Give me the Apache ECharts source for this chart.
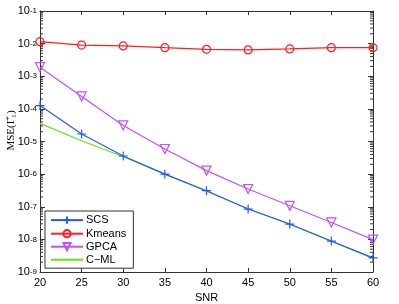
<!DOCTYPE html>
<html><head><meta charset="utf-8">
<script src="https://cdn.jsdelivr.net/npm/echarts@6/dist/echarts.min.js"></script>
<style>html,body{margin:0;padding:0;background:#fff}#c{width:399px;height:304px}</style>
</head><body><div id="c"></div>
<script>
var snr = [20, 25, 30, 35, 40, 45, 50, 55, 60];
var scs = [1.26e-4, 1.7e-5, 3.6e-6, 1.0e-6, 3.1e-7, 8.5e-8, 2.95e-8, 8.9e-9, 2.7e-9];
var kmeans = [1.15e-2, 9.0e-3, 8.5e-3, 7.5e-3, 6.7e-3, 6.4e-3, 6.9e-3, 7.5e-3, 7.5e-3];
var gpca = [1.9e-3, 2.4e-4, 3.1e-5, 5.9e-6, 1.28e-6, 3.5e-7, 1.07e-7, 3.3e-8, 9.8e-9];
var cml = [3.6e-5, 1.05e-5, 3.4e-6, 1.0e-6, 3.0e-7, 8.7e-8, 2.9e-8, 8.6e-9, 2.6e-9];
var yExponents = [-9, -8, -7, -6, -5, -4, -3, -2, -1];
var minorMult = [2, 3, 4, 5, 6, 7, 8, 9];

function pairs(ys) { return snr.map(function (x, i) { return [x, ys[i]]; }); }
var minorVals = [];
for (var d = 0; d < yExponents.length - 1; d++) {
  minorMult.forEach(function (m) { minorVals.push([m * Math.pow(10, yExponents[d])]); });
}
var axisColor = '#333';
var chart = echarts.init(document.getElementById('c'));
chart.setOption({
  animation: false,
  grid: { left: 40, right: 26, top: 11, bottom: 32, containLabel: false, outerBoundsMode: 'none' },
  xAxis: [{
    type: 'value', min: 20, max: 60, interval: 5,
    name: 'SNR', nameLocation: 'middle', nameGap: 20,
    nameTextStyle: { fontFamily: 'Liberation Sans', fontSize: 11, color: '#000' },
    axisLine: { lineStyle: { color: axisColor } },
    axisTick: { inside: true, length: 4, lineStyle: { color: axisColor } },
    axisLabel: { fontFamily: 'Liberation Sans', fontSize: 11, color: '#000', margin: 5 },
    splitLine: { show: false }
  }, {
    type: 'value', min: 20, max: 60, interval: 5, position: 'top',
    axisLine: { lineStyle: { color: axisColor } },
    axisTick: { inside: true, length: 4, lineStyle: { color: axisColor } },
    axisLabel: { show: false }, splitLine: { show: false }
  }],
  yAxis: [{
    type: 'log', logBase: 10, min: 1e-9, max: 1e-1,
    name: 'MSE(\u0393\u0302\u2081)', nameLocation: 'middle', nameGap: 23, nameMoveOverlap: false,
    nameTextStyle: { fontFamily: 'Liberation Serif', fontSize: 11, color: '#000', padding: [0, 0, 0, 22] },
    axisLine: { show: true, lineStyle: { color: axisColor } },
    axisTick: { inside: true, length: 5, lineStyle: { color: axisColor } },
    axisLabel: {
      formatter: function (v) { return '{b|10}{s|' + Math.round(Math.log10(v)) + '}'; },
      align: 'right', margin: 3,
      rich: {
        b: { fontFamily: 'Liberation Sans', fontSize: 11, color: '#000', lineHeight: 14 },
        s: { fontFamily: 'Liberation Sans', fontSize: 8, color: '#000', lineHeight: 22 }
      }
    },
    splitLine: { show: false }
  }, {
    type: 'log', logBase: 10, min: 1e-9, max: 1e-1, position: 'right',
    axisLine: { show: true, lineStyle: { color: axisColor } },
    axisTick: { inside: true, length: 5, lineStyle: { color: axisColor } },
    axisLabel: { show: false }, splitLine: { show: false }
  }],
  legend: {
    left: 45, top: 211, orient: 'vertical',
    backgroundColor: '#fff', borderColor: '#333', borderWidth: 1,
    padding: [3, 7, 3, 5], itemGap: 2, itemWidth: 32, itemHeight: 9,
    textStyle: { fontFamily: 'Liberation Sans', fontSize: 11, color: '#000', padding: [0, 0, 0, -2] },
    data: ['SCS', 'Kmeans', 'GPCA', 'C\u2212ML']
  },
  series: [
    {
      type: 'custom', silent: true, z: 1,
      data: minorVals,
      coordinateSystem: 'cartesian2d',
      encode: { y: 0 },
      renderItem: function (params, api) {
        var v = api.value(0);
        var l = api.coord([20, v]);
        var r = api.coord([60, v]);
        return {
          type: 'group', children: [
            { type: 'line', shape: { x1: l[0], y1: l[1], x2: l[0] + 3, y2: l[1] }, style: { stroke: axisColor, lineWidth: 1 } },
            { type: 'line', shape: { x1: r[0], y1: r[1], x2: r[0] - 3, y2: r[1] }, style: { stroke: axisColor, lineWidth: 1 } }
          ]
        };
      }
    },
    {
      name: 'C\u2212ML', type: 'line', data: pairs(cml), symbol: 'circle', showSymbol: false, symbolSize: 0,
      itemStyle: { color: 'rgba(0,0,0,0)', borderWidth: 0 }, lineStyle: { color: '#66e01e', width: 1.2 }, z: 3
    },
    {
      name: 'SCS', type: 'line', data: pairs(scs),
      symbol: 'path://M5,0 L5,10 M0,5 L10,5', symbolSize: 9,
      itemStyle: { color: 'none', borderColor: '#2358ff', borderWidth: 1.2 },
      lineStyle: { color: '#2358ff', width: 1.2 }, z: 4
    },
    {
      name: 'Kmeans', type: 'line', data: pairs(kmeans),
      symbol: 'circle', symbolSize: 8,
      itemStyle: { color: 'rgba(255,255,255,0)', borderColor: '#ff1e1e', borderWidth: 1.2 },
      lineStyle: { color: '#ff1e1e', width: 1.2 }, z: 4
    },
    {
      name: 'GPCA', type: 'line', data: pairs(gpca),
      symbol: 'triangle', symbolRotate: 180, symbolSize: 9,
      itemStyle: { color: 'rgba(255,255,255,0)', borderColor: '#c050ff', borderWidth: 1.2 },
      lineStyle: { color: '#c050ff', width: 1.2 }, z: 4
    }
  ]
});
</script></body></html>
